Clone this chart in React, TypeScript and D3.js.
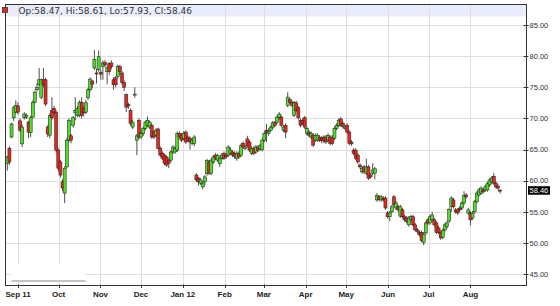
import React, { useEffect } from "react";
import * as d3 from "d3";

// ---- data ----
const opens = [
  62.8, 65.2, 67.0, 70.1, 71.0, 72.0, 69.6, 65.9, 70.1, 70.2,
  69.4, 67.7, 70.2, 72.6, 74.6, 75.4, 73.4, 76.2, 76.2, 68.6,
  67.3, 71.3, 71.6, 71.0, 64.9, 63.0, 59.8, 58.0, 62.2, 66.5,
  67.2, 68.9, 70.9, 70.5, 70.5, 72.6, 71.6, 71.0, 73.3, 74.6,
  76.0, 78.1, 77.3, 77.8, 77.4, 78.3, 79.0, 77.5, 78.8, 78.9,
  76.2, 76.5, 76.7, 78.3, 77.3, 75.8, 73.8, 72.2, 71.3, 68.6,
  73.9, 66.5, 69.7, 67.0, 67.6, 68.4, 68.9, 68.6, 68.9, 67.8,
  67.3, 68.3, 65.2, 64.4, 64.1, 63.8, 63.3, 63.3, 64.6, 64.6,
  64.9, 67.6, 67.3, 66.8, 67.8, 67.0, 66.8, 66.0, 66.0, 60.9,
  60.4, 59.6, 59.0, 59.8, 61.1, 63.0, 61.2, 63.0, 64.1, 63.3,
  62.7, 63.6, 64.4, 64.1, 64.1, 64.4, 64.6, 64.4, 63.6, 64.4,
  64.1, 66.0, 65.2, 66.7, 66.2, 64.4, 65.2, 64.6, 65.4, 65.1,
  65.0, 66.5, 68.1, 67.6, 68.1, 68.6, 69.3, 69.4, 70.1, 70.2,
  68.1, 68.9, 72.1, 73.0, 72.6, 70.5, 72.5, 71.7, 69.7, 69.7,
  70.1, 67.6, 67.8, 67.0, 67.3, 66.5, 66.5, 67.0, 66.8, 67.0,
  67.0, 66.5, 67.0, 67.0, 66.8, 68.4, 68.9, 69.9, 69.2, 68.4,
  68.9, 67.8, 66.2, 64.9, 64.9, 64.1, 62.5, 61.4, 62.2, 61.2,
  62.2, 60.9, 61.2, 61.2, 56.9, 57.4, 56.9, 57.2, 57.2, 54.8,
  54.2, 55.0, 57.4, 55.6, 55.8, 54.3, 55.3, 54.2, 54.0, 52.9,
  53.7, 54.2, 52.9, 52.1, 51.7, 51.7, 50.1, 51.6, 53.7, 53.2,
  53.7, 53.7, 53.2, 52.4, 51.7, 50.9, 52.1, 52.6, 53.5, 55.8,
  56.9, 55.3, 55.3, 55.6, 55.6, 56.4, 57.7, 54.8, 54.8, 54.0,
  55.0, 56.6, 57.7, 58.0, 58.5, 58.5, 58.5, 59.3, 59.8, 60.7,
  59.6, 59.1, 58.47,
];
const highs = [
  64.0, 65.5, 69.3, 72.0, 72.9, 72.6, 70.0, 69.0, 71.0, 70.8,
  69.6, 70.4, 72.9, 74.5, 75.6, 78.1, 76.4, 78.1, 76.5, 68.9,
  70.8, 73.4, 72.0, 71.3, 65.2, 63.3, 60.2, 62.3, 66.8, 70.0,
  67.5, 70.4, 73.4, 72.0, 72.9, 73.4, 72.0, 73.0, 74.9, 76.6,
  76.2, 81.0, 78.0, 80.9, 77.8, 79.3, 79.4, 78.5, 79.0, 79.3,
  76.6, 76.8, 78.6, 78.6, 77.6, 76.1, 74.0, 72.5, 71.6, 69.8,
  75.0, 67.5, 70.0, 67.9, 68.7, 69.6, 70.3, 69.6, 69.2, 68.0,
  68.4, 68.5, 65.5, 64.7, 64.3, 64.0, 63.5, 64.8, 65.7, 65.5,
  67.9, 67.9, 67.6, 67.9, 68.1, 67.3, 67.1, 66.8, 67.3, 61.2,
  60.6, 60.4, 59.9, 60.9, 63.5, 63.3, 63.6, 64.1, 64.4, 64.3,
  63.9, 64.4, 64.7, 64.4, 65.7, 65.4, 64.9, 64.7, 64.7, 64.7,
  65.9, 66.3, 65.7, 67.2, 66.5, 65.5, 65.5, 65.7, 65.7, 65.9,
  66.8, 67.9, 69.1, 68.4, 68.9, 69.6, 69.6, 70.5, 71.0, 70.5,
  68.9, 69.2, 74.2, 73.3, 72.9, 72.8, 72.8, 72.0, 70.0, 70.0,
  70.4, 68.7, 68.1, 67.9, 67.6, 67.6, 67.6, 67.3, 67.1, 67.3,
  67.3, 67.6, 67.3, 67.3, 68.7, 69.2, 70.0, 70.2, 69.5, 68.9,
  69.2, 68.1, 66.5, 65.2, 65.2, 64.4, 62.8, 62.3, 62.5, 63.5,
  62.5, 61.2, 62.8, 62.2, 58.0, 57.7, 57.7, 57.5, 57.5, 55.1,
  55.1, 56.1, 57.7, 56.7, 56.1, 56.1, 55.6, 54.5, 54.3, 54.3,
  54.5, 54.5, 53.2, 52.4, 52.0, 52.0, 51.7, 53.5, 54.0, 54.5,
  55.0, 54.0, 53.5, 52.7, 52.0, 52.3, 53.2, 53.5, 55.7, 57.5,
  57.2, 55.6, 55.6, 55.9, 56.7, 58.3, 58.0, 55.6, 55.1, 55.1,
  56.9, 58.3, 58.8, 59.1, 58.8, 59.3, 59.8, 60.4, 60.7, 61.2,
  59.9, 59.4, 58.61,
];
const lows = [
  61.6, 62.5, 66.8, 69.6, 70.8, 70.6, 67.8, 65.4, 69.8, 69.9,
  66.8, 67.0, 70.0, 72.4, 74.3, 75.1, 73.1, 75.0, 72.0, 67.0,
  66.8, 69.8, 70.6, 64.5, 61.5, 60.5, 58.3, 56.4, 62.0, 66.2,
  66.0, 68.5, 69.7, 70.2, 70.2, 70.0, 70.3, 70.7, 73.0, 74.3,
  74.8, 77.8, 75.6, 77.5, 76.2, 76.2, 78.2, 75.5, 77.0, 77.9,
  74.6, 75.0, 76.4, 77.0, 75.4, 74.4, 71.0, 71.5, 68.8, 68.3,
  73.3, 64.1, 66.7, 66.7, 67.2, 68.1, 68.6, 68.3, 66.7, 66.7,
  67.0, 65.0, 63.8, 63.3, 62.5, 62.2, 62.0, 63.0, 64.3, 64.3,
  64.6, 66.7, 66.2, 66.5, 65.9, 66.2, 65.0, 65.7, 65.5, 59.8,
  59.2, 59.3, 58.6, 59.3, 60.8, 60.9, 60.9, 62.7, 63.3, 63.0,
  62.2, 63.3, 63.3, 63.5, 63.8, 64.1, 63.8, 63.5, 63.2, 63.5,
  63.8, 65.1, 64.9, 65.3, 64.6, 64.1, 64.1, 64.3, 64.6, 64.8,
  64.7, 66.2, 66.2, 67.2, 67.8, 68.3, 68.6, 69.1, 69.8, 68.6,
  67.8, 66.8, 71.8, 72.3, 71.8, 70.2, 71.0, 69.8, 68.6, 68.9,
  68.3, 67.3, 67.0, 66.7, 65.4, 66.2, 66.2, 66.2, 66.0, 66.0,
  65.9, 66.2, 65.7, 65.7, 66.5, 68.1, 68.6, 68.6, 68.4, 68.1,
  67.5, 65.7, 65.6, 64.1, 63.3, 62.7, 61.9, 61.1, 61.1, 60.9,
  60.1, 60.3, 60.9, 60.2, 56.6, 56.7, 56.6, 56.6, 55.3, 53.9,
  53.5, 54.7, 55.8, 55.3, 55.0, 54.0, 53.9, 53.4, 53.1, 52.6,
  53.4, 52.6, 51.8, 51.5, 51.0, 50.1, 49.6, 51.3, 52.9, 52.9,
  53.4, 52.6, 51.4, 51.4, 50.5, 50.6, 51.8, 52.3, 53.2, 55.0,
  55.5, 54.7, 54.5, 55.0, 55.3, 56.1, 57.1, 54.5, 52.8, 53.7,
  54.7, 56.3, 57.4, 57.7, 57.9, 58.2, 58.2, 59.0, 59.5, 59.3,
  58.7, 58.5, 57.93,
];
const closes = [
  63.8, 63.0, 69.1, 71.7, 72.1, 71.0, 68.1, 68.6, 70.7, 70.5,
  67.8, 70.1, 72.6, 74.2, 75.0, 76.2, 76.2, 75.4, 72.3, 67.5,
  70.5, 70.1, 71.0, 64.9, 62.0, 60.9, 58.8, 62.0, 66.5, 69.7,
  66.5, 70.1, 71.3, 71.6, 72.6, 70.5, 70.9, 72.5, 74.6, 76.3,
  75.5, 79.5, 77.2, 79.9, 77.1, 78.9, 78.6, 78.1, 77.5, 78.3,
  75.4, 75.4, 78.3, 77.5, 75.8, 75.0, 71.8, 72.0, 69.2, 69.4,
  73.9, 67.2, 67.0, 67.6, 68.4, 69.4, 69.7, 69.4, 67.0, 67.0,
  68.1, 65.2, 64.1, 63.6, 62.8, 62.5, 62.8, 64.6, 65.4, 65.2,
  67.6, 67.0, 66.5, 67.6, 66.2, 66.5, 66.2, 66.5, 67.0, 60.1,
  59.8, 60.1, 59.6, 60.6, 63.2, 61.2, 63.3, 63.8, 63.6, 64.0,
  63.6, 64.1, 63.6, 63.8, 65.4, 64.9, 64.1, 63.9, 64.4, 63.8,
  65.6, 65.4, 65.4, 65.6, 64.9, 65.2, 64.4, 65.4, 64.9, 65.6,
  66.5, 67.6, 67.7, 67.9, 68.6, 69.3, 68.9, 70.2, 70.7, 68.9,
  68.6, 67.8, 73.4, 72.6, 72.1, 72.5, 71.3, 70.1, 68.9, 69.2,
  68.6, 68.4, 67.3, 67.6, 65.7, 67.3, 67.3, 66.5, 66.4, 66.4,
  66.2, 67.3, 66.0, 66.0, 68.4, 68.9, 69.7, 68.9, 68.7, 68.6,
  67.8, 66.0, 65.9, 64.4, 63.6, 63.0, 62.2, 62.0, 61.4, 62.2,
  60.4, 60.6, 61.7, 61.9, 57.6, 57.0, 57.4, 56.9, 55.6, 54.2,
  54.8, 55.8, 56.1, 56.4, 55.3, 55.8, 54.2, 53.7, 53.4, 54.0,
  54.2, 52.9, 52.1, 51.8, 51.3, 50.4, 51.4, 53.2, 53.2, 54.2,
  54.5, 52.9, 51.7, 51.7, 50.8, 52.0, 52.9, 53.2, 55.4, 57.2,
  55.8, 55.0, 54.8, 55.3, 56.4, 57.6, 57.4, 55.3, 53.7, 54.8,
  56.6, 58.0, 58.5, 58.8, 58.2, 59.0, 59.5, 60.1, 60.4, 59.6,
  59.0, 58.8, 58.46,
];

const firstDate = new Date(2011, 7, 24);
const lastDate = new Date(2012, 7, 23);
const domainStart = new Date(2011, 7, 22, 16);
const domainEnd = new Date(2012, 8, 11, 12);

const monthDates = [
  new Date(2011, 8, 1), new Date(2011, 9, 1), new Date(2011, 10, 1), new Date(2011, 11, 1),
  new Date(2012, 0, 1), new Date(2012, 1, 1), new Date(2012, 2, 1), new Date(2012, 3, 1),
  new Date(2012, 4, 1), new Date(2012, 5, 1), new Date(2012, 6, 1), new Date(2012, 7, 1),
];
const monthLabels = ["Sep 11", "Oct", "Nov", "Dec", "Jan 12", "Feb", "Mar", "Apr", "May", "Jun", "Jul", "Aug"];
const yTicks = [45, 50, 55, 60, 65, 70, 75, 80, 85];
const legendText = "Op:58.47, Hi:58.61, Lo:57.93, Cl:58.46";
const lastClose = 58.46;
// small overview bar at the bottom-left (date span, value band)
const overviewStart = new Date(2011, 7, 27);
const overviewEnd = new Date(2011, 9, 21);
const overviewTop = 46.5;
const overviewBottom = 43.8;

const UP = "#4fe024";
const DOWN = "#e8281e";
const FONT = "'Liberation Sans', Arial, sans-serif";

export default function App() {
  useEffect(() => {
    document.body.style.margin = "0";
  }, []);

  const W = 560, H = 306;
  const left = 5.5, right = 526.5, top = 4.5, bottom = 285.5;

  const xTime = d3.scaleTime().domain([domainStart, domainEnd]).range([left, right]);
  const xIdx = d3.scaleLinear().domain([0, opens.length - 1]).range([xTime(firstDate), xTime(lastDate)]);
  const y = d3.scaleLinear().domain([45, 85]).range([274, 25]);

  const bodyW = 3;

  return (
    <svg width={W} height={H} style={{ position: "absolute", left: 0, top: 0, background: "#fff" }}>
      {/* header band */}
      <rect x={left} y={top} width={right - left} height={12} fill="#e9ecfb" />
      {/* grid */}
      {yTicks.map((t) => (
        <line key={"hg" + t} x1={left} x2={right} y1={Math.round(y(t)) + 0.5} y2={Math.round(y(t)) + 0.5} stroke="#dedede" strokeWidth={1} />
      ))}
      {monthDates.map((d, i) => (
        <line key={"vg" + i} x1={Math.round(xTime(d)) + 0.5} x2={Math.round(xTime(d)) + 0.5} y1={top} y2={bottom} stroke="#dedede" strokeWidth={1} />
      ))}
      {/* overview box */}
      <rect x={xTime(overviewStart)} y={y(overviewTop)} width={xTime(overviewEnd) - xTime(overviewStart)} height={y(overviewBottom) - y(overviewTop)} fill="#fff" />
      <line x1={xTime(overviewStart)} x2={xTime(overviewEnd)} y1={y(overviewBottom) - 0.5} y2={y(overviewBottom) - 0.5} stroke="#c4c4c4" strokeWidth={2} />
      {/* candles */}
      <g>
        {opens.map((o, i) => {
          const c = closes[i];
          const cx = xIdx(i);
          const up = c >= o;
          const yt = y(Math.max(o, c));
          const yb = y(Math.min(o, c));
          return (
            <g key={i}>
              <line x1={cx} x2={cx} y1={y(highs[i])} y2={y(lows[i])} stroke="#3a3a3a" strokeWidth={0.9} />
              <rect x={cx - bodyW / 2} y={yt} width={bodyW} height={Math.max(1, yb - yt)} fill={up ? UP : DOWN} stroke="#222" strokeWidth={0.55} />
            </g>
          );
        })}
      </g>
      {/* frame */}
      <rect x={left} y={top} width={right - left} height={bottom - top} fill="none" stroke="#333" strokeWidth={1} />
      {/* legend */}
      <rect x={2.5} y={7.5} width={5} height={5} fill={DOWN} stroke="#333" strokeWidth={0.8} />
      <text x={18.5} y={14} fontFamily="'DejaVu Sans', Verdana, sans-serif" fontSize={9} fill="#333">{legendText}</text>
      {/* right axis */}
      {yTicks.map((t) => (
        <g key={"yt" + t}>
          <line x1={right - 3} x2={right + 2} y1={Math.round(y(t)) + 0.5} y2={Math.round(y(t)) + 0.5} stroke="#333" />
          <text x={529.5} y={y(t) + 2.8} fontFamily={FONT} fontSize={7.5} fill="#333">{t.toFixed(2)}</text>
        </g>
      ))}
      <rect x={528} y={y(lastClose) - 4} width={22} height={8.5} fill="#000" />
      <text x={529.5} y={y(lastClose) + 3} fontFamily={FONT} fontSize={7.5} fill="#fff">{lastClose.toFixed(2)}</text>
      {/* bottom axis */}
      {monthDates.map((d, i) => (
        <g key={"xt" + i}>
          <line x1={Math.round(xTime(d)) + 0.5} x2={Math.round(xTime(d)) + 0.5} y1={bottom - 1} y2={bottom + 2.5} stroke="#333" />
          <text x={xTime(d)} y={297} textAnchor="middle" fontFamily={FONT} fontSize={8} fontWeight="bold" fill="#222">{monthLabels[i]}</text>
        </g>
      ))}
    </svg>
  );
}
